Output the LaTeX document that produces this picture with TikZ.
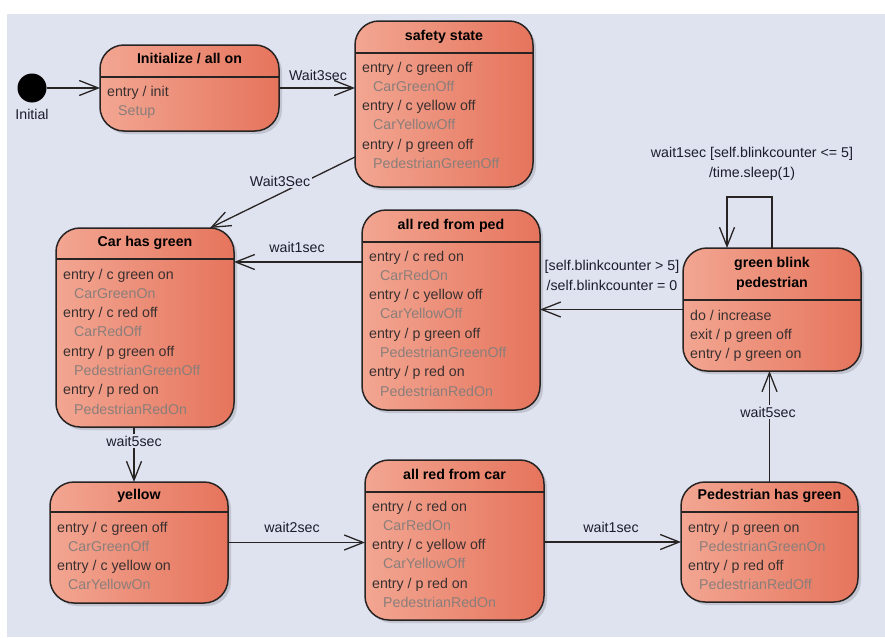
\documentclass[tikz,border=0pt]{standalone}
\usepackage{fontspec}
\setmainfont{Liberation Sans}
\usetikzlibrary{arrows.meta,calc}

\definecolor{canvas}{RGB}{223,227,240}
\definecolor{salmonL}{RGB}{242,166,146}
\definecolor{salmonR}{RGB}{230,116,92}
\definecolor{edge}{RGB}{40,36,36}
\definecolor{acttxt}{RGB}{58,48,48}
\definecolor{subtxt}{RGB}{138,126,122}
\definecolor{lbltxt}{RGB}{28,28,44}

\newcommand\basefont{\fontsize{14.2}{17}\selectfont}

\tikzset{
  stbox/.style={draw=edge, line width=1.5pt, rounded corners=24pt,
    left color=salmonL, right color=salmonR, inner sep=0pt, outer sep=0pt},
  sthead/.style={draw=edge, line width=1.4pt},
  sttitle/.style={font=\basefont\bfseries, text=black, anchor=base, inner sep=0pt},
  stline/.style={text=acttxt, anchor=base west, inner sep=0pt},
  trans/.style={draw=edge, line width=1.3pt, -{Straight Barb[length=19pt,width=15pt]}},
  tlabel/.style={text=lbltxt, anchor=base, inner sep=1.5pt},
  tlabelbg/.style={tlabel, fill=canvas},
  shadowfill/.style={fill=black, opacity=0.13, rounded corners=24pt},
}

% indented, grey action name under an entry line
\newcommand\subact[1]{\hspace*{11pt}\textcolor{subtxt}{#1}}

% state box: name, centre x, centre y, width, height, header offset from top
\newcommand\statebox[6]{%
  \fill[shadowfill] ({#2-#4/2+3},{#3-#5/2+3}) rectangle ++(#4,#5);
  \node[stbox, minimum width=#4pt, minimum height=#5pt] (#1) at (#2,#3) {};
  \draw[sthead] ($(#1.north west)+(0,#6)$) -- ($(#1.north east)+(0,#6)$);
}

% compartment lines: [step], name, left x, first baseline, list of lines
\newcommand\stlines[5][19.3]{%
  \foreach \txt [count=\k] in {#5}{
    \node[stline] (#2-\k) at (#3,{#4+#1*(\k-1)}) {\txt};
  }%
}

\begin{document}
\begin{tikzpicture}[x=1pt, y=-1pt, font=\basefont]
  \useasboundingbox (0,0) rectangle (885,637);
  \fill[white] (0,0) rectangle (885,637);
  \fill[canvas] (7,14) rectangle (885,637);

  % initial pseudo-state
  \node[circle, fill=black, minimum size=29pt, inner sep=0pt] (initial) at (32,88) {};
  \node[text=lbltxt, anchor=base, inner sep=0pt] (initial-lbl) at (32,119) {Initial};

  % states
  \statebox{init}{189.5}{88}{179}{86}{32}
  \node[sttitle] (init-t) at (189.5,63) {Initialize / all on};
  \stlines{init}{107}{96}{entry / init, \subact{Setup}}

  \statebox{safety}{444}{104}{178}{166}{32}
  \node[sttitle] (safety-t) at (444,40) {safety state};
  \stlines{safety}{362}{72}{entry / c green off, \subact{CarGreenOff},
    entry / c yellow off, \subact{CarYellowOff},
    entry / p green off, \subact{PedestrianGreenOff}}

  \statebox{carg}{145}{327.5}{178}{199}{31}
  \node[sttitle] (carg-t) at (145,246) {Car has green};
  \stlines{carg}{63}{279}{entry / c green on, \subact{CarGreenOn},
    entry / c red off, \subact{CarRedOff},
    entry / p green off, \subact{PedestrianGreenOff},
    entry / p red on, \subact{PedestrianRedOn}}

  \statebox{redped}{451}{310}{178}{200}{32}
  \node[sttitle] (redped-t) at (451,229) {all red from ped};
  \stlines{redped}{369}{261}{entry / c red on, \subact{CarRedOn},
    entry / c yellow off, \subact{CarYellowOff},
    entry / p green off, \subact{PedestrianGreenOff},
    entry / p red on, \subact{PedestrianRedOn}}

  \statebox{blink}{772}{309.5}{178}{123}{52}
  \node[sttitle] (blink-t1) at (772,267) {green blink};
  \node[sttitle] (blink-t2) at (772,287) {pedestrian};
  \stlines[19]{blink}{690}{320}{do / increase, exit / p green off, entry / p green on}

  \statebox{yellow}{139}{542.5}{178}{121}{30}
  \node[sttitle] (yellow-t) at (139,499) {yellow};
  \stlines{yellow}{57}{532}{entry / c green off, \subact{CarGreenOff},
    entry / c yellow on, \subact{CarYellowOn}}

  \statebox{redcar}{454.5}{540}{179}{160}{32}
  \node[sttitle] (redcar-t) at (454.5,479) {all red from car};
  \stlines{redcar}{372}{511}{entry / c red on, \subact{CarRedOn},
    entry / c yellow off, \subact{CarYellowOff},
    entry / p red on, \subact{PedestrianRedOn}}

  \statebox{pedg}{769.5}{542}{177}{120}{30}
  \node[sttitle] (pedg-t) at (769.5,499) {Pedestrian has green};
  \stlines{pedg}{688}{532}{entry / p green on, \subact{PedestrianGreenOn},
    entry / p red off, \subact{PedestrianRedOff}}

  % transitions
  \draw[trans] (initial) -- (init);

  \draw[trans] (init.east) -- (init.east -| safety.west);
  \node[tlabel] (l-init) at (318,80) {Wait3sec};

  \draw[trans] ($(safety.west)+(0,53)$) -- ($(carg.north east)+(-24,0)$);
  \node[tlabelbg] (l-safety) at (280,186) {Wait3Sec};

  \draw[trans] ($(redped.west)+(0,-48)$) -- ($(carg.east)+(0,-65.5)$);
  \node[tlabel] (l-redped) at (297,252) {wait1sec};

  \draw[trans] (blink.west) -- (blink.west -| redped.east);
  \node[tlabel] (l-exit1) at (612,270) {[self.blinkcounter > 5]};
  \node[tlabel] (l-exit2) at (612,290) {/self.blinkcounter = 0};

  \draw[trans] (blink.north) -- ++(0,-51) -| ($(blink.north)+(-45,0)$);
  \node[tlabel] (l-loop1) at (752,157) {wait1sec [self.blinkcounter <= 5]};
  \node[tlabel] (l-loop2) at (752,177) {/time.sleep(1)};

  \draw[trans] ($(carg.south)+(-11,0)$) -- ($(yellow.north)+(-5,0)$);
  \node[tlabelbg] (l-carg) at (134,446) {wait5sec};

  \draw[trans] (yellow.east) -- (yellow.east -| redcar.west);
  \node[tlabel] (l-yellow) at (292,532) {wait2sec};

  \draw[trans] (redcar.east |- pedg.west) -- (pedg.west);
  \node[tlabel] (l-redcar) at (611,532) {wait1sec};

  \draw[trans] (pedg.north) -- (pedg.north |- blink.south);
  \node[tlabelbg] (l-pedg) at (768,417) {wait5sec};
\end{tikzpicture}
\end{document}
